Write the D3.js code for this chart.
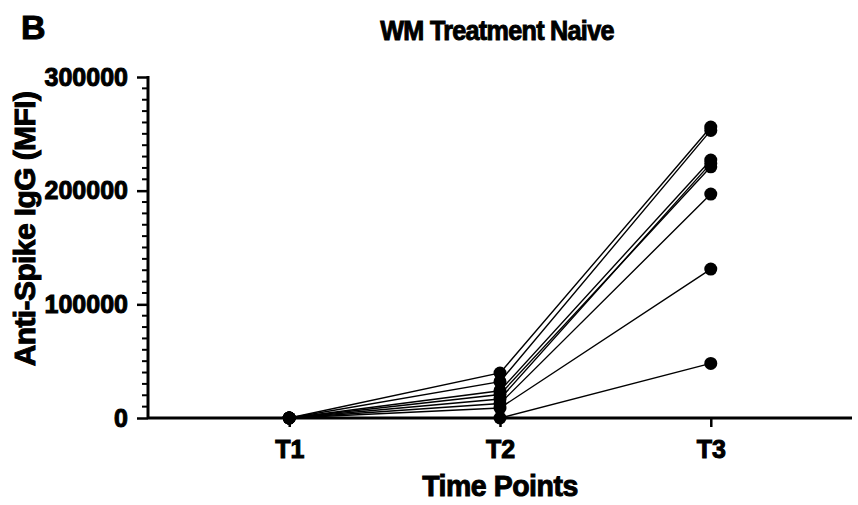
<!DOCTYPE html>
<html>
<head>
<meta charset="utf-8">
<script src="https://cdn.jsdelivr.net/npm/d3@7"></script>
<style>
  body { margin: 0; background: #fff; }
  svg { display: block; font-family: "Liberation Sans", Arial, sans-serif; }
</style>
</head>
<body>
<script>
// --- data ---
const timePoints = ["T1", "T2", "T3"];
const t1Values = [0, 0, 0, 0, 0, 0, 0, 0];
const t2Values = [39600, 32000, 24000, 20700, 16700, 12700, 8800, 0];
const t3Values = [256000, 253000, 227000, 221000, 224000, 197000, 131000, 48000];
const yTicks = [0, 100000, 200000, 300000];

const W = 858, H = 505;
const margin = { top: 77, right: 6, bottom: 87, left: 148 };

const svg = d3.select("body").append("svg")
  .attr("width", W)
  .attr("height", H);

const x = d3.scalePoint()
  .domain(timePoints)
  .range([margin.left, W - margin.right])
  .padding(0.67);

const y = d3.scaleLinear()
  .domain([0, 300000])
  .range([H - margin.bottom, margin.top]);

const subjects = t1Values.map((d, i) => [
  { t: "T1", v: t1Values[i] },
  { t: "T2", v: t2Values[i] },
  { t: "T3", v: t3Values[i] }
]);

const line = d3.line().x(d => x(d.t)).y(d => y(d.v));

// lines
svg.append("g")
  .selectAll("path")
  .data(subjects)
  .join("path")
    .attr("d", line)
    .attr("fill", "none")
    .attr("stroke", "#000")
    .attr("stroke-width", 1.4);

const heavy = sel => sel.attr("font-weight", "bold").attr("fill", "#000")
  .attr("stroke", "#000").attr("stroke-width", 1)
  .attr("font-family", "Liberation Sans, Arial, sans-serif");

// y axis: minor ticks every 10000
const minor = d3.range(0, 300001, 10000).filter(v => v % 100000 !== 0);
const yAxis = svg.append("g").attr("transform", `translate(${margin.left},0)`);
yAxis.selectAll("line.minor")
  .data(minor)
  .join("line")
    .attr("x1", -6).attr("x2", 0)
    .attr("y1", d => y(d)).attr("y2", d => y(d))
    .attr("stroke", "#000").attr("stroke-width", 2);
yAxis.call(d3.axisLeft(y).tickValues(yTicks).tickSize(11).tickPadding(9).tickFormat(d3.format("d")))
  .call(ax => ax.select(".domain").attr("stroke-width", 3).attr("d", `M0,${y(300000) - 1}V${y(0)}`))
  .call(ax => ax.selectAll(".tick line").attr("stroke-width", 2.5))
  .call(ax => ax.selectAll("text").attr("font-size", 25).call(heavy));

// x axis
svg.append("g")
  .attr("transform", `translate(0,${y(0)})`)
  .call(d3.axisBottom(x).tickSize(9).tickPadding(13))
  .call(ax => ax.select(".domain").attr("stroke-width", 3).attr("d", `M${margin.left},0H${W - margin.right}`))
  .call(ax => ax.selectAll(".tick line").attr("stroke-width", 2.5))
  .call(ax => ax.selectAll("text").attr("font-size", 25).call(heavy));

// dots
svg.append("g")
  .selectAll("circle")
  .data(subjects.flat())
  .join("circle")
    .attr("cx", d => x(d.t))
    .attr("cy", d => y(d.v))
    .attr("r", 6.5)
    .attr("fill", "#000");

// texts
svg.append("text").text("B")
  .attr("x", 21).attr("y", 39).attr("font-size", 34)
  .call(heavy);

svg.append("text").text("WM Treatment Naive")
  .attr("transform", `translate(${(margin.left + W - margin.right) / 2 - 3},40) scale(0.9,1)`)
  .attr("text-anchor", "middle").attr("font-size", 28)
  .attr("letter-spacing", -0.8)
  .call(heavy);

svg.append("text").text("Time Points")
  .attr("transform", `translate(${(margin.left + W - margin.right) / 2},496) scale(0.95,1)`)
  .attr("text-anchor", "middle").attr("font-size", 30)
  .attr("letter-spacing", -0.5)
  .call(heavy);

svg.append("text").text("Anti-Spike IgG (MFI)")
  .attr("transform", `translate(35,229) rotate(-90)`)
  .attr("text-anchor", "middle").attr("font-size", 30)
  .attr("letter-spacing", -0.6)
  .call(heavy);
</script>
</body>
</html>
